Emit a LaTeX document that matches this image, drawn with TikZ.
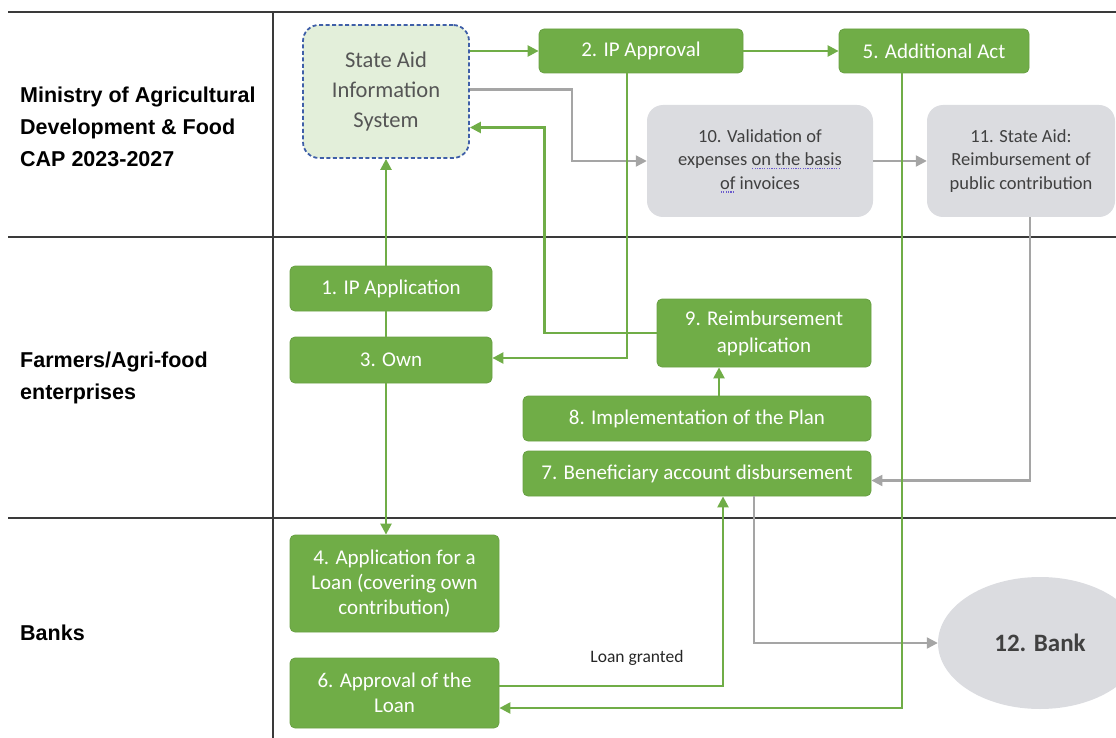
\documentclass[tikz,border=0pt]{standalone}
\usepackage{fontspec}
\setmainfont{Carlito}
\newfontfamily\lanefont{Liberation Sans}
\usetikzlibrary{arrows.meta,shapes.geometric,calc}
\definecolor{leaf}{HTML}{70AD47}
\definecolor{leafedge}{HTML}{68A043}
\definecolor{mist}{HTML}{DBDCE0}
\definecolor{ink}{HTML}{404040}
\definecolor{ash}{HTML}{A5A5A5}
\definecolor{sage}{HTML}{E3EFDA}
\definecolor{navy}{HTML}{3F5FA8}
\definecolor{rule}{HTML}{3A3A3A}
\definecolor{squig}{HTML}{6A5ACD}
\definecolor{slate}{HTML}{555555}
% dotted proofing underline
\newsavebox\ulbox
\newcommand\gramul[1]{\sbox\ulbox{#1}%
  \rlap{\color{squig}\raisebox{-3.5pt}{\hbox to \wd\ulbox{\leaders\hbox to 2.4pt{\hss\rule{1.3pt}{1.3pt}\hss}\hfill}}}%
  \usebox\ulbox}

\begin{document}
\begin{tikzpicture}[x=1pt,y=-1pt,
  greenbox/.style={rectangle,rounded corners=5pt,fill=leaf,draw=leafedge,line width=0.8pt,
    text=white,align=center,font=\fontsize{21}{25}\selectfont,inner sep=0pt},
  graybox/.style={rectangle,rounded corners=16pt,fill=mist,draw=none,text=ink,align=center,
    font=\fontsize{18.5}{23.5}\selectfont,inner sep=0pt},
  lane/.style={anchor=west,align=left,font=\lanefont\bfseries\fontsize{21.5}{32}\selectfont,
    text=black,inner sep=0pt},
  flow/.style={draw=leaf,line width=2.4pt,-{Triangle[length=11pt,width=11pt]}},
  plain/.style={draw=leaf,line width=2.4pt},
  grayflow/.style={draw=ash,line width=2.2pt,-{Triangle[length=11pt,width=11pt]}},
  divider/.style={draw=rule,line width=1.4pt}]

\useasboundingbox (0,0) rectangle (1116,738);
\clip (0,0) rectangle (1116,738);

% swimlane grid
\draw[divider] (8,12) -- (1116,12);
\draw[divider] (8,237) -- (1116,237);
\draw[divider] (8,518) -- (1116,518);
\draw[divider] (273,12) -- (273,738);

% lane titles
\node[lane] (laneMin) at (20,127) {Ministry of Agricultural\\Development \& Food\\CAP 2023-2027};
\node[lane] (laneFarm) at (20,378) {Farmers/Agri-food\\enterprises};
\node[lane] (laneBank) at (20,633) {Banks};

% steps
\node[rectangle,rounded corners=16pt,fill=sage,draw=navy,dash pattern=on 4pt off 2.5pt,line width=1.8pt,
  minimum width=166pt,minimum height=133pt,align=center,text=slate,
  font=\fontsize{22.5}{30}\selectfont,inner sep=0pt] (sa) at (386,91.5)
  {State Aid\\Information\\System};
\node[greenbox,minimum width=204pt,minimum height=44pt] (ipa) at (641,51) {2. IP Approval};
\node[greenbox,minimum width=190pt,minimum height=44pt] (aa) at (934,51) {5. Additional Act};
\node[graybox,minimum width=226pt,minimum height=112pt] (v10) at (760,161)
  {10. Validation of\\expenses \gramul{on the basis}\\\gramul{of} invoices};
\node[graybox,minimum width=188pt,minimum height=112pt] (s11) at (1021,161)
  {11. State Aid:\\Reimbursement of\\public contribution};
\node[greenbox,minimum width=202pt,minimum height=45pt] (ip1) at (391,288.5) {1. IP Application};
\node[greenbox,minimum width=202pt,minimum height=46pt] (own) at (391,360) {3. Own};
\node[greenbox,minimum width=214pt,minimum height=68pt,font=\fontsize{21}{27}\selectfont] (r9) at (764,333) {9. Reimbursement\\application};
\node[greenbox,minimum width=348pt,minimum height=45pt] (impl) at (697,418.5) {8. Implementation of the Plan};
\node[greenbox,minimum width=348pt,minimum height=45pt] (ben) at (697,473.5) {7. Beneficiary account disbursement};
\node[greenbox,minimum width=209pt,minimum height=97pt] (app4) at (394.5,583.5)
  {4. Application for a\\Loan (covering own\\contribution)};
\node[greenbox,minimum width=209pt,minimum height=70pt] (app6) at (394.5,693) {6. Approval of the\\Loan};
\node[ellipse,fill=mist,draw=none,minimum width=204pt,minimum height=132pt,text=ink,
  font=\bfseries\fontsize{25}{28}\selectfont,inner sep=0pt] (bank) at (1040,643) {12. Bank};
\node[font=\fontsize{17.5}{20}\selectfont,text=black!85,inner sep=0pt] (granted) at (637,658) {Loan granted};

% grey flows
\draw[grayflow] ($(sa.east)+(0,-2)$) -- ++(102,0) |- (v10.west);
\draw[grayflow] (v10.east) -- (s11.west);
\draw[grayflow] ($(s11.south)+(9,0)$) |- ($(ben.east)+(0,7)$);
\draw[grayflow] ($(ben.south)+(57,0)$) |- (bank.west);

% green flows
\draw[flow] (sa.east |- ipa.west) -- (ipa.west);
\draw[flow] (ipa.east) -- (aa.west);
\draw[flow] (r9.west) -- ++(-112,0) |- ($(sa.east)+(0,36)$);
\draw[flow] ($(ipa.south)+(-14,0)$) |- ($(own.east)+(0,-2)$);
\draw[flow] ($(aa.south)+(-32,0)$) |- ($(app6.east)+(0,15)$);
\draw[flow] ($(app6.east)+(0,-7)$) -| ($(ben.south)+(26,0)$);
\coordinate (lift) at ($(impl.north)+(22,0)$);
\draw[flow] (lift) -- (lift |- r9.south);
\draw[flow] (sa.south |- ip1.north) -- (sa.south);
\draw[plain] (sa.south |- ip1.south) -- (sa.south |- own.north);
\draw[flow] (sa.south |- own.south) -- (sa.south |- app4.north);

\end{tikzpicture}
\end{document}
